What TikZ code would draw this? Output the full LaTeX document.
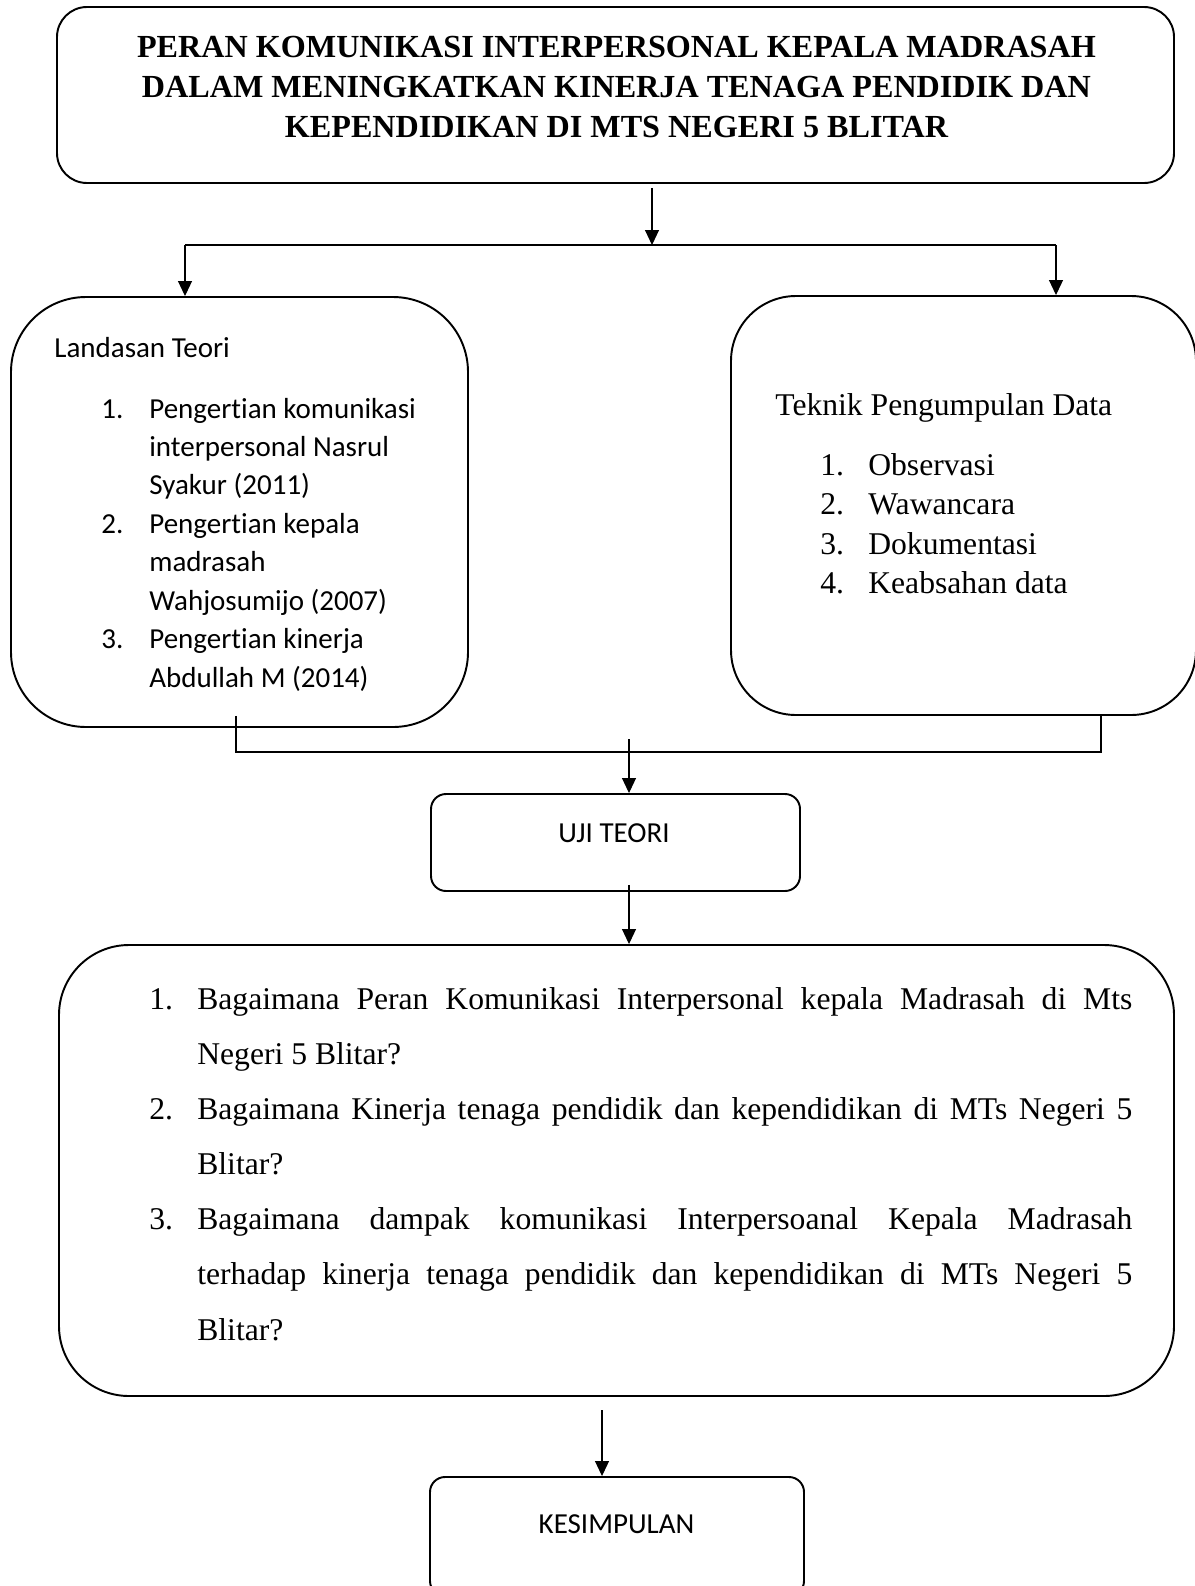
\documentclass[tikz,border=0pt]{standalone}
\usepackage{fontspec}
\setmainfont{Liberation Serif}
\newfontfamily\calibri[Ligatures=NoCommon]{Carlito}
\usetikzlibrary{arrows.meta}
\newcommand{\rataline}[1]{\makebox[18.7cm][s]{#1}}

\begin{document}
\begin{tikzpicture}[x=1cm,y=1cm,
  box/.style={draw,line width=1.1pt,inner sep=0pt},
  link/.style={line width=0.6pt},
  arr/.style={link,-{Triangle[length=0.3cm,width=0.28cm]}},
  sans/.style={font=\calibri\fontsize{16.5}{21.9}\selectfont,inner sep=0pt},
  serif/.style={font=\fontsize{18}{22.5}\selectfont,inner sep=0pt}]
  \clip (0,0) rectangle (23.9,-31.72);
  \fill[white] (0,0) rectangle (23.9,-31.72);
  % boxes
  \node[box,rounded corners=0.6cm,minimum width=22.34cm,minimum height=3.52cm] (title) at (12.31,-1.9) {};
  \node[box,rounded corners=1.5cm,minimum width=9.14cm,minimum height=8.6cm] (teori) at (4.79,-10.24) {};
  \node[box,rounded corners=1.3cm,minimum width=9.3cm,minimum height=8.38cm] (teknik) at (19.27,-10.11) {};
  \node[box,rounded corners=0.3cm,minimum width=7.38cm,minimum height=1.94cm] (uji) at (12.31,-16.85) {};
  \node[box,rounded corners=1.4cm,minimum width=22.3cm,minimum height=9.02cm] (rumusan) at (12.33,-23.41) {};
  \node[box,rounded corners=0.3cm,minimum width=7.48cm,minimum height=2.38cm] (kesimpulan) at (12.34,-30.73) {};
  % texts
  \node[inner sep=0pt,anchor=base,align=center,font=\bfseries\fontsize{18.3}{22.76}\selectfont] (titletext) at (12.33,-2.74)
    {PERAN KOMUNIKASI INTERPERSONAL KEPALA MADRASAH\\DALAM MENINGKATKAN KINERJA TENAGA PENDIDIK DAN\\KEPENDIDIKAN DI MTS NEGERI 5 BLITAR};
  \node[sans,anchor=base west] (teorihead) at (1.08,-7.14) {Landasan Teori};
  \node[sans,anchor=base west] (teorilist) at (2.02,-8.36) {\begin{tabular}[t]{@{}p{0.96cm}@{}l@{}}
    1.&Pengertian komunikasi\\ &interpersonal Nasrul\\ &Syakur (2011)\\
    2.&Pengertian kepala\\ &madrasah\\ &Wahjosumijo (2007)\\
    3.&Pengertian kinerja\\ &Abdullah M (2014)\end{tabular}};
  \node[serif,anchor=base west] (teknikhead) at (15.5,-8.3) {Teknik Pengumpulan Data};
  \node[serif,anchor=base west,font=\fontsize{18}{22.5}\selectfont] (tekniklist) at (16.4,-9.5) {\begin{tabular}[t]{@{}p{0.96cm}@{}l@{}}
    1.&Observasi\\ 2.&Wawancara\\ 3.&Dokumentasi\\ 4.&Keabsahan data\end{tabular}};
  \node[sans,anchor=base] (ujitext) at (12.28,-16.84) {UJI TEORI};
  \node[serif,anchor=base west,font=\fontsize{18}{31.4}\selectfont] (rumusanlist) at (2.98,-20.18) {\begin{tabular}[t]{@{}p{0.96cm}@{}l@{}}
    1.&\rataline{Bagaimana Peran Komunikasi Interpersonal kepala Madrasah di Mts}\\
     &Negeri 5 Blitar?\\
    2.&\rataline{Bagaimana Kinerja tenaga pendidik dan kependidikan di MTs Negeri 5}\\
     &Blitar?\\
    3.&\rataline{Bagaimana dampak komunikasi Interpersoanal Kepala Madrasah}\\
     &\rataline{terhadap kinerja tenaga pendidik dan kependidikan di MTs Negeri 5}\\
     &Blitar?\end{tabular}};
  \node[sans,anchor=base] (kestext) at (12.33,-30.66) {KESIMPULAN};
  % connectors
  \coordinate (splitL) at (3.7,-4.9);
  \coordinate (splitM) at (13.04,-4.9);
  \coordinate (splitR) at (21.12,-4.9);
  \coordinate (joinL) at (4.72,-15.04);
  \coordinate (joinR) at (22.02,-15.04);
  \coordinate (ujiIn) at (12.58,-14.78);
  \coordinate (kesIn) at (12.04,-28.2);
  \draw[arr] (title.south -| splitM) ++(0,-0.08) -- (splitM);
  \draw[link] (splitL) -- (splitR);
  \draw[arr] (splitL) -- (splitL |- teori.north);
  \draw[arr] (splitR) -- (splitR |- teknik.north);
  \draw[link] (teori.south -| joinL) ++(0,0.24) -- (joinL) -- (joinR) -- (teknik.south -| joinR);
  \draw[arr] (ujiIn) -- (ujiIn |- uji.north);
  \draw[arr] (uji.south -| ujiIn) ++(0,0.14) -- (ujiIn |- rumusan.north);
  \draw[arr] (kesIn) -- (kesIn |- kesimpulan.north);
\end{tikzpicture}
\end{document}
